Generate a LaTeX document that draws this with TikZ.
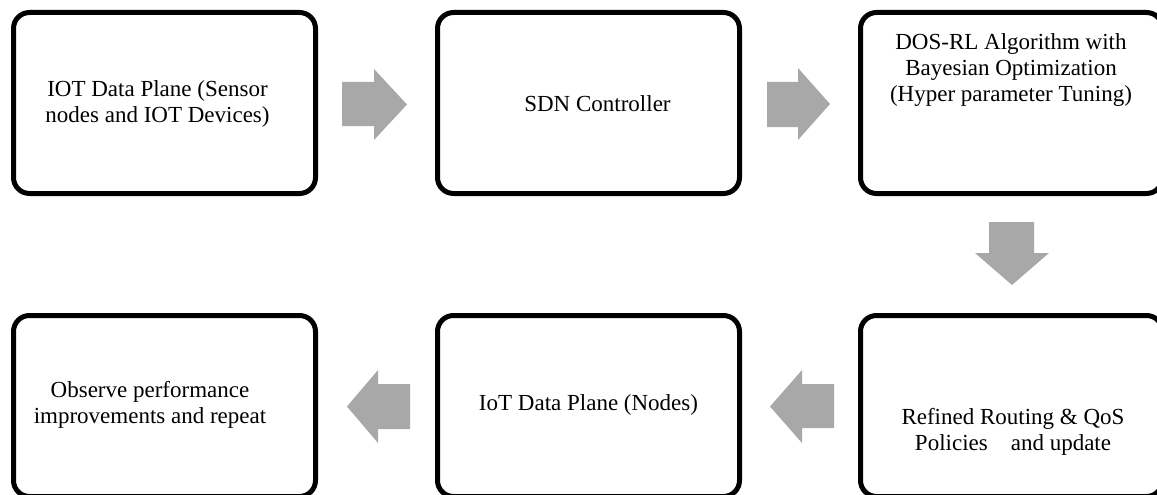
\documentclass[tikz,border=0pt]{standalone}
\usepackage{fontspec}
\setmainfont{Liberation Serif}
\definecolor{arrowgray}{RGB}{168,168,168}
\tikzset{
  x=1pt, y=-1pt,
  stagebox/.style={draw=black, line width=5pt, rounded corners=16pt,
    minimum width=302pt, minimum height=181pt, inner sep=0pt},
  stagetext/.style={align=center, font=\fontsize{23}{26}\selectfont, inner sep=0pt},
  blockarrow/.style={fill=arrowgray, draw=none}
}
\begin{document}
\begin{tikzpicture}
\useasboundingbox (0,0) rectangle (1157,495);
\clip (0,0) rectangle (1157,495);
% stage boxes
\node[stagebox] (b1) at (164.5,103) {};
\node[stagebox] (b2) at (588.5,103) {};
\node[stagebox] (b3) at (1011.5,103) {};
\node[stagebox] (b4) at (1011.5,406) {};
\node[stagebox] (b5) at (588.5,406) {};
\node[stagebox] (b6) at (164.5,406) {};
% stage labels
\node[stagetext] (t1) at (157.5,104) {IOT Data Plane (Sensor\\nodes and IOT Devices)};
\node[stagetext] (t2) at (597.5,104) {SDN Controller};
\node[stagetext] (t3) at (1011,70) {DOS-RL Algorithm with\\Bayesian Optimization\\(Hyper parameter Tuning)};
\node[stagetext] (t4) at (1013,432) {Refined Routing \& QoS\\Policies\quad and update};
\node[stagetext] (t5) at (588.5,405) {IoT Data Plane (Nodes)};
\node[stagetext] (t6) at (150,405) {Observe performance\\improvements and repeat};
% block arrows between stages
\fill[blockarrow] (342,82) -- (374,82) -- (374,69) -- (407,104.5) -- (374,140) -- (374,126) -- (342,126) -- cycle;
\fill[blockarrow] (767,82) -- (798,82) -- (798,68) -- (830,104) -- (798,140) -- (798,127) -- (767,127) -- cycle;
\fill[blockarrow] (989,222) -- (1034,222) -- (1034,253) -- (1049,253) -- (1012,285) -- (975,253) -- (989,253) -- cycle;
\fill[blockarrow] (834,384) -- (802,384) -- (802,370) -- (770,406.5) -- (802,443) -- (802,428) -- (834,428) -- cycle;
\fill[blockarrow] (410,384) -- (378,384) -- (378,370) -- (347,406.5) -- (378,443) -- (378,429) -- (410,429) -- cycle;
\end{tikzpicture}
\end{document}
